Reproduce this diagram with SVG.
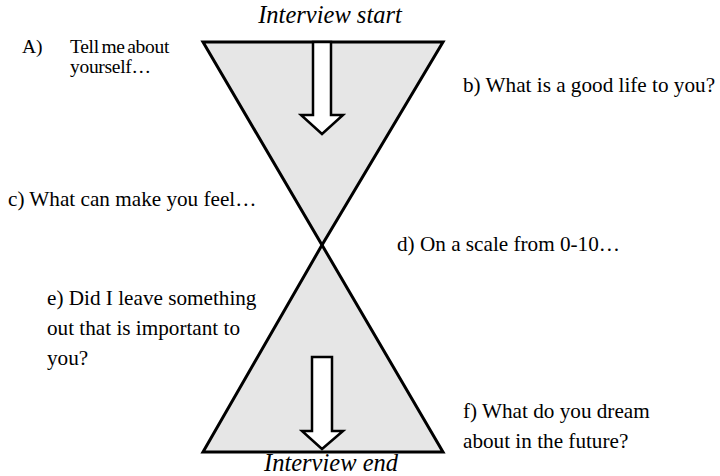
<svg xmlns="http://www.w3.org/2000/svg" width="720" height="476" viewBox="0 0 720 476">
<style>
.t{font-family:"Liberation Serif","Times New Roman",serif;font-size:21.2px;fill:#000}
.h{font-family:"Liberation Serif","Times New Roman",serif;font-size:24.5px;font-style:italic;fill:#000}
.s{font-family:"Liberation Serif","Times New Roman",serif;font-size:19.5px;fill:#000}
.tri{fill:#e6e6e6;stroke:#000;stroke-width:3;stroke-linejoin:miter}
.arr{fill:#fff;stroke:#000;stroke-width:2.5}
</style>
<rect width="720" height="476" fill="#fff"/>
<g id="hourglass">
<polygon class="tri" points="203,42 443,42 322,245"/>
<polygon class="tri" points="322,245 443,452 203,452"/>
</g>
<g id="connectors">
<polygon class="arr" points="313,42 331,42 331,115 343,115 322,134 301,115 313,115"/>
<polygon class="arr" points="312,357 332,357 332,431 343,431 322,449 302,431 312,431"/>
</g>
<g id="title-start"><text class="h" x="330" y="23" text-anchor="middle">Interview start</text></g>
<g id="title-end"><text class="h" x="331" y="470.5" text-anchor="middle">Interview end</text></g>
<g id="node-a">
<text class="s" x="22" y="53">A)</text>
<text class="s" x="70" y="53" letter-spacing="-0.3" word-spacing="-2">Tell me about</text>
<text class="s" x="70" y="73" letter-spacing="-0.3">yourself…</text>
</g>
<g id="node-b"><text class="t" x="463" y="92">b) What is a good life to you?</text></g>
<g id="node-c"><text class="t" x="8" y="206">c) What can make you feel…</text></g>
<g id="node-d"><text class="t" x="397" y="251">d) On a scale from 0-10…</text></g>
<g id="node-e">
<text class="t" x="47" y="305">e) Did I leave something</text>
<text class="t" x="47" y="335">out that is important to</text>
<text class="t" x="47" y="365">you?</text>
</g>
<g id="node-f">
<text class="t" x="463" y="418">f) What do you dream</text>
<text class="t" x="463" y="448">about in the future?</text>
</g>
</svg>
